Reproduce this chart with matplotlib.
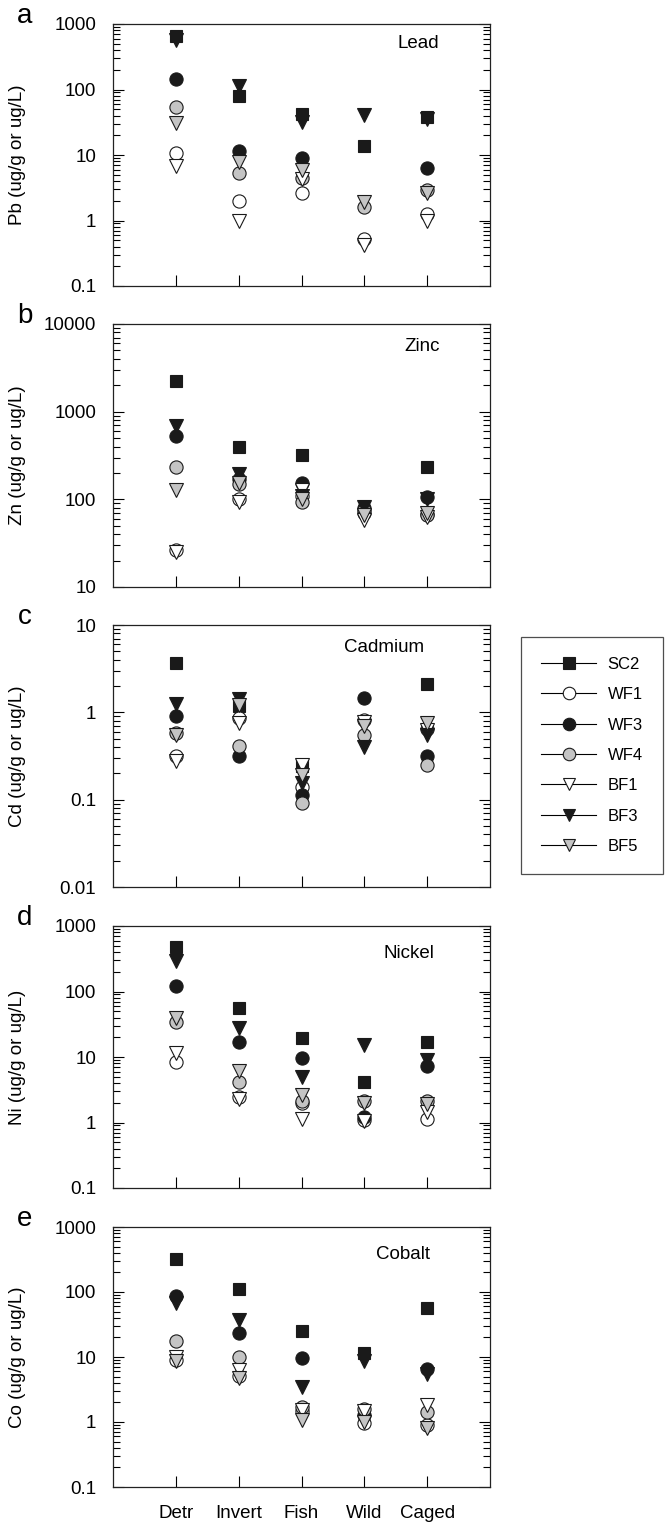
import numpy as np
import matplotlib
matplotlib.use("Agg")
import matplotlib.pyplot as plt
from matplotlib.lines import Line2D
from matplotlib.ticker import LogLocator, FuncFormatter, NullFormatter

plt.rcParams['font.family'] = ['Liberation Sans', 'DejaVu Sans']

categories = ["Detr", "Invert", "Fish", "Wild", "Caged"]
sites = ["SC2", "WF1", "WF3", "WF4", "BF1", "BF3", "BF5"]
nan = np.nan

# values per site, order: Detr, Invert, Fish, Wild, Caged
lead = {
    "SC2": [650, 80, 43, 13.9, 37.6],
    "WF1": [10.6, 2.0, 2.66, 0.53, 1.24],
    "WF3": [145, 11.6, 9.1, nan, 6.25],
    "WF4": [55, 5.4, 4.5, 1.59, 2.9],
    "BF1": [6.9, 1.0, 4.26, 0.42, 1.0],
    "BF3": [570, 113, 32, 41, 35],
    "BF5": [30.5, 7.7, 6.0, 1.95, 2.6],
}
zinc = {
    "SC2": [2250, 393, 318, nan, 236],
    "WF1": [26.5, 101, 110, 70, 68],
    "WF3": [533, 170, 152, 80, 107],
    "WF4": [236, 150, 94, 76, 66],
    "BF1": [25, 94, 128, 58, 63],
    "BF3": [688, 195, 108, 82, 100],
    "BF5": [128, 155, 100, 66, 70],
}
cadmium = {
    "SC2": [3.64, 1.18, 0.24, nan, 2.09],
    "WF1": [0.32, 0.85, 0.14, 0.82, 0.65],
    "WF3": [0.91, 0.32, 0.113, 1.45, 0.32],
    "WF4": [0.58, 0.41, 0.092, 0.55, 0.25],
    "BF1": [0.28, 0.75, 0.25, 0.78, 0.63],
    "BF3": [1.24, 1.42, 0.156, 0.40, 0.55],
    "BF5": [0.55, 1.2, 0.19, 0.70, 0.75],
}
nickel = {
    "SC2": [483, 56.6, 19.7, 4.1, 16.7],
    "WF1": [8.5, 2.42, 2.0, 1.1, 1.15],
    "WF3": [123, 16.7, 9.5, 1.23, 7.4],
    "WF4": [34.6, 4.1, 2.1, 2.15, 2.15],
    "BF1": [11.4, 2.3, 1.12, 1.05, 1.46],
    "BF3": [292, 27.4, 5.0, 15.2, 8.9],
    "BF5": [40, 6.1, 2.63, 2.0, 1.95],
}
cobalt = {
    "SC2": [322, 111, 25.4, 11.4, 56],
    "WF1": [9.0, 5.1, 1.5, 0.95, 0.9],
    "WF3": [87, 23.7, 9.5, 1.28, 6.5],
    "WF4": [17.8, 10.1, 1.68, 1.6, 1.45],
    "BF1": [10.0, 6.3, 1.55, 1.5, 1.83],
    "BF3": [68.6, 37, 3.5, 8.7, 5.4],
    "BF5": [8.7, 4.7, 1.07, 1.0, 0.8],
}

panels = [
    ("a", "Lead", "Pb (ug/g or ug/L)", lead, (0.1, 1000)),
    ("b", "Zinc", "Zn (ug/g or ug/L)", zinc, (10, 10000)),
    ("c", "Cadmium", "Cd (ug/g or ug/L)", cadmium, (0.01, 10)),
    ("d", "Nickel", "Ni (ug/g or ug/L)", nickel, (0.1, 1000)),
    ("e", "Cobalt", "Co (ug/g or ug/L)", cobalt, (0.1, 1000)),
]

BLACK = "#1a1a1a"
GRAY = "#c4c4c4"
styles = {
    "SC2": dict(marker="s", mfc=BLACK),
    "WF1": dict(marker="o", mfc="white"),
    "WF3": dict(marker="o", mfc=BLACK),
    "WF4": dict(marker="o", mfc=GRAY),
    "BF1": dict(marker="v", mfc="white"),
    "BF3": dict(marker="v", mfc=BLACK),
    "BF5": dict(marker="v", mfc=GRAY),
}

fig = plt.figure(figsize=(6.65, 15.23), dpi=100)
W = 665.0
H = 1523.0
ax_px = [(24, 286), (324, 587), (625, 887), (926, 1188), (1227, 1487)]
left_px, right_px = 113, 490
title_pos = [(0.809, 0.927), (0.82, 0.915), (0.72, 0.915), (0.785, 0.895), (0.77, 0.895)]

x = np.arange(1, len(categories) + 1)

for i, (letter, name, ylabel, data, ylim) in enumerate(panels):
    top, bot = ax_px[i]
    ax = fig.add_axes([left_px / W, 1 - bot / H, (right_px - left_px) / W, (bot - top) / H])
    for s in sites:
        st = styles[s]
        ax.plot(x, data[s], linestyle="none", marker=st["marker"], markerfacecolor=st["mfc"],
                markeredgecolor=BLACK, markeredgewidth=0.8,
                markersize=9.5 if st["marker"] != "s" else 8.5, clip_on=False)
    ax.set_yscale("log")
    ax.set_ylim(*ylim)
    ax.set_xlim(0, 6)
    ax.set_xticks(x)
    if i == len(panels) - 1:
        ax.set_xticklabels(categories, fontsize=13.5)
    else:
        ax.set_xticklabels([])
    ax.yaxis.set_major_locator(LogLocator(base=10, numticks=20))
    ax.yaxis.set_minor_locator(LogLocator(base=10, subs=np.arange(2, 10), numticks=20))
    ax.yaxis.set_major_formatter(FuncFormatter(lambda v, p: "%g" % v))
    ax.yaxis.set_minor_formatter(NullFormatter())
    ax.tick_params(axis="y", which="both", direction="in", left=True, right=True, labelsize=13.5, pad=12)
    ax.tick_params(axis="y", which="major", length=8, width=0.8)
    ax.tick_params(axis="y", which="minor", length=5, width=0.8)
    ax.tick_params(axis="x", which="both", direction="in", bottom=True, top=False, length=8, width=0.8, pad=13)
    ax.tick_params(axis="x", which="minor", bottom=False)
    for sp in ax.spines.values():
        sp.set_linewidth(0.9)
        sp.set_color("#222222")
    ax.set_ylabel(ylabel, fontsize=13.5)
    ax.yaxis.set_label_coords(-0.23, 0.5)
    tx, ty = title_pos[i]
    ax.text(tx, ty, name, transform=ax.transAxes, fontsize=13.5, ha="center", va="center")
    fig.text(25 / W, 1 - (top - 1) / H, letter, fontsize=20, ha="center", va="baseline")

handles = []
for s in sites:
    st = styles[s]
    handles.append(Line2D([0], [0], color="black", lw=0.8, marker=st["marker"],
                          markerfacecolor=st["mfc"], markeredgecolor=BLACK, markeredgewidth=0.8,
                          markersize=9.0 if st["marker"] != "s" else 8.0))
leg = fig.legend(handles, sites, loc="upper left", bbox_to_anchor=(521 / W, 1 - 637 / H),
                 bbox_transform=fig.transFigure, borderaxespad=0, fontsize=12,
                 frameon=True, fancybox=False, edgecolor="#222222", handlelength=3.3,
                 labelspacing=0.92, borderpad=1.2, handletextpad=0.7)
leg.get_frame().set_linewidth(0.9)

fig.savefig("out.png", dpi=100)
